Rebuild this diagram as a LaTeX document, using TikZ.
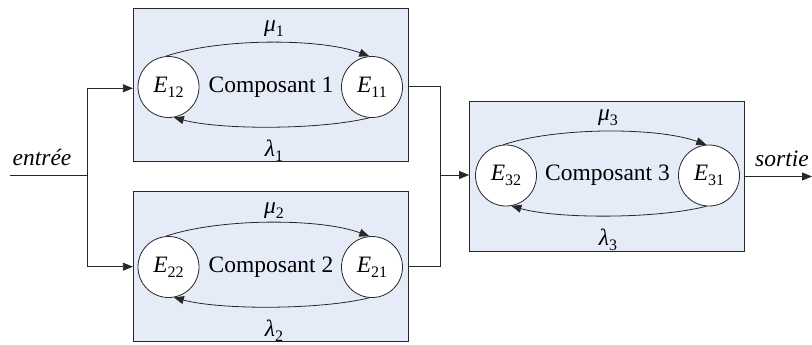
\documentclass[tikz,border=0pt]{standalone}
\usepackage{fontspec}
\setmainfont{Liberation Serif}
\usetikzlibrary{arrows.meta}
\definecolor{boxfill}{RGB}{230,236,247}
\definecolor{linec}{RGB}{40,40,40}
\newcommand\stname[2]{\textit{#1}\raisebox{-0.22em}{\fontsize{16}{16}\selectfont #2}}
\begin{document}
\begin{tikzpicture}[x=1pt,y=-1pt,
  every node/.style={font=\fontsize{23.5}{27}\selectfont, inner sep=0pt},
  comp/.style={draw=linec, line width=0.8pt, fill=boxfill, minimum width=275pt},
  state/.style={circle, draw=linec, line width=0.8pt, fill=white, minimum size=61pt},
  conn/.style={draw=linec, line width=0.8pt},
  arr/.style={conn, -{Triangle[length=10pt,width=8pt]}},
  lab/.style={font=\fontsize{23.5}{27}\selectfont\itshape}
]
\useasboundingbox (0,0) rectangle (812,345);
% boxes
\node[comp, minimum height=153pt] (b1) at (270.8,85) {};
\node[comp, minimum height=150pt] (b2) at (270.8,266.7) {};
\node[comp, minimum height=150pt] (b3) at (607,176.7) {};
% states
\node[state] (e12) at (168.5,87) {\stname{E}{12}};
\node[state] (e11) at (372,87) {\stname{E}{11}};
\node (c1) at (271,87) {Composant 1};
\node[state] (e22) at (168.5,267) {\stname{E}{22}};
\node[state] (e21) at (372,267) {\stname{E}{21}};
\node (c2) at (271,267) {Composant 2};
\node[state] (e32) at (506,175.5) {\stname{E}{32}};
\node[state] (e31) at (709,175.5) {\stname{E}{31}};
\node (c3) at (607.5,175.5) {Composant 3};
% transitions
\draw[arr] (e12.95) .. controls (220,38) and (320,38) .. (e11.95);
\draw[arr] (e11.-95) .. controls (320,130) and (220,130) .. (e12.-80);
\draw[arr] (e22.95) .. controls (220,218) and (320,218) .. (e21.95);
\draw[arr] (e21.-95) .. controls (320,310) and (220,310) .. (e22.-80);
\draw[arr] (e32.95) .. controls (557,127) and (657,127) .. (e31.95);
\draw[arr] (e31.-95) .. controls (657,219) and (557,219) .. (e32.-80);
\node (m1) at (274,29) {\stname{μ}{1}};
\node (l1) at (274,151) {\stname{λ}{1}};
\node (m2) at (274,211) {\stname{μ}{2}};
\node (l2) at (274,331) {\stname{λ}{2}};
\node (m3) at (608,118) {\stname{μ}{3}};
\node (l3) at (608,240) {\stname{λ}{3}};
% connectors
\coordinate (in) at (10,175);
\coordinate (j1) at (87,175);
\coordinate (j2) at (440,175);
\coordinate (out) at (812,176.5);
\draw[conn] (in) -- (j1);
\node[lab, anchor=base] (entree) at (42,165) {entrée};
\draw[arr] (j1) |- (b1.west |- 0,88.3);
\draw[arr] (j1) |- (b2.west |- 0,266.7);
\draw[conn] (b1.east |- 0,86.7) -| (j2);
\draw[conn] (b2.east |- 0,266.7) -| (j2);
\draw[arr] (j2) -- (b3.west |- j2);
\draw[arr] (b3.east |- out) -- (out);
\node[lab, anchor=base] (sortie) at (782,166) {sortie};
\end{tikzpicture}
\end{document}
